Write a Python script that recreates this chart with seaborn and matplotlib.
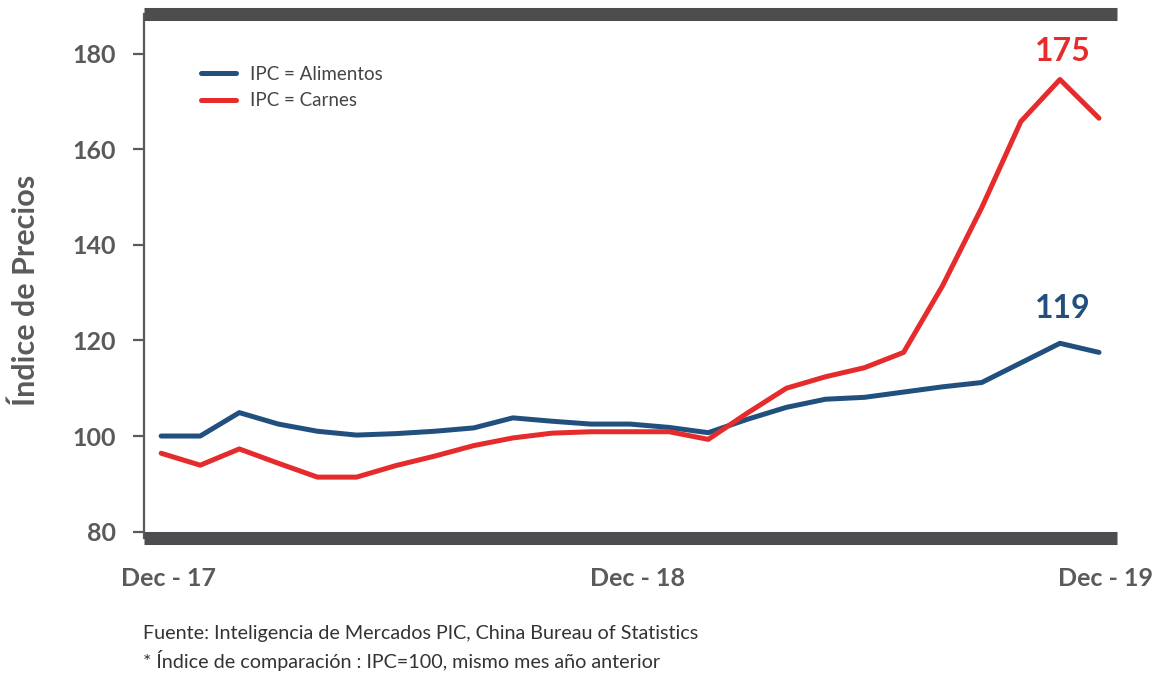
import matplotlib
matplotlib.use("Agg")
import matplotlib.pyplot as plt
import matplotlib.transforms as mtransforms
import seaborn as sns
import pandas as pd

# Monthly consumer price index, Dec-2017 .. Dec-2019 (same month previous year = 100)
months = list(range(25))
ipc_alimentos = [100.0, 100.0, 104.9, 102.5, 101.0, 100.2, 100.5, 101.0, 101.7,
                 103.8, 103.1, 102.5, 102.5, 101.8, 100.7, 103.5, 106.0, 107.7,
                 108.1, 109.2, 110.3, 111.2, 115.3, 119.4, 117.5]
ipc_carnes = [96.4, 93.9, 97.3, 94.3, 91.4, 91.4, 93.8, 95.8, 98.0,
              99.6, 100.6, 100.9, 100.9, 100.9, 99.3, 104.8, 110.0, 112.4,
              114.3, 117.5, 131.5, 147.8, 165.8, 174.6, 166.5]
series_names = ["IPC = Alimentos", "IPC = Carnes"]
tick_months = [0, 12, 24]
tick_labels = ["Dec - 17", "Dec - 18", "Dec - 19"]
y_ticks = [80, 100, 120, 140, 160, 180]

BLUE = "#22507e"
RED = "#e52b2b"
GRAY = "#5a5a5a"
BAR = "#4d4d4f"

sns.set_theme(style="white")
plt.rcParams["font.family"] = ["Lato", "DejaVu Sans"]

df = pd.concat([
    pd.DataFrame({"mes": months, "indice": ipc_alimentos, "serie": series_names[0]}),
    pd.DataFrame({"mes": months, "indice": ipc_carnes, "serie": series_names[1]}),
])

fig = plt.figure(figsize=(11.76, 6.76), dpi=100)
ax = fig.add_axes([0.1224, 0.2041, 0.8274, 0.7759])

sns.lineplot(data=df, x="mes", y="indice", hue="serie",
             palette={series_names[0]: BLUE, series_names[1]: RED},
             linewidth=3.6, ax=ax, legend=True)

ax.set_xlim(-0.44, 24.46)
ax.set_ylim(78.66, 188.4)

# frame: thick dark bars on top and bottom, thin gray left axis
for side in ["top", "bottom"]:
    ax.spines[side].set_visible(True)
    ax.spines[side].set_color(BAR)
    ax.spines[side].set_linewidth(9.4)
    ax.spines[side].set_capstyle("butt")
ax.spines["right"].set_visible(False)
ax.spines["left"].set_color(GRAY)
ax.spines["left"].set_linewidth(1.6)

ax.set_yticks(y_ticks)
ax.set_yticklabels([str(v) for v in y_ticks], fontsize=18, fontweight="bold", color=GRAY)
ax.tick_params(axis="y", which="major", left=True, direction="out",
               length=8, width=1.6, color=GRAY, pad=12)
ax.set_xticks(tick_months)
ax.set_xticklabels(tick_labels, fontsize=18, fontweight="bold", color=GRAY)
ax.tick_params(axis="x", length=0, pad=21)
shift = mtransforms.ScaledTranslation(7 / 100, 0, fig.dpi_scale_trans)
for lbl in ax.get_xticklabels():
    lbl.set_transform(lbl.get_transform() + shift)

ax.set_xlabel("")
ax.set_ylabel("Índice de Precios", fontsize=22, fontweight="bold", color=GRAY)
ax.yaxis.set_label_coords(-0.107, 0.473)

# value labels at the peak of each series
for values, color, dy in [(ipc_carnes, RED, 20), (ipc_alimentos, BLUE, 25)]:
    i = max(range(len(values)), key=lambda k: values[k])
    ax.annotate(f"{values[i]:.0f}", xy=(months[i], values[i]),
                xytext=(2, dy), textcoords="offset points",
                ha="center", va="center", fontsize=23, fontweight="bold", color=color)

leg = ax.legend(loc="upper left", bbox_to_anchor=(0.059, 0.9), frameon=False,
                fontsize=13.5, handlelength=1.85, handletextpad=0.75,
                labelspacing=0.5, borderpad=0, borderaxespad=0)
for txt in leg.get_texts():
    txt.set_color("#444444")

fig.text(0.1216, 0.0636, "Fuente: Inteligencia de Mercados PIC, China Bureau of Statistics",
         fontsize=14.2, color="#333333", va="center", ha="left")
fig.text(0.1216, 0.0222, "* Índice de comparación : IPC=100, mismo mes año anterior",
         fontsize=14.2, color="#333333", va="center", ha="left")

fig.savefig("out.png", dpi=100)
